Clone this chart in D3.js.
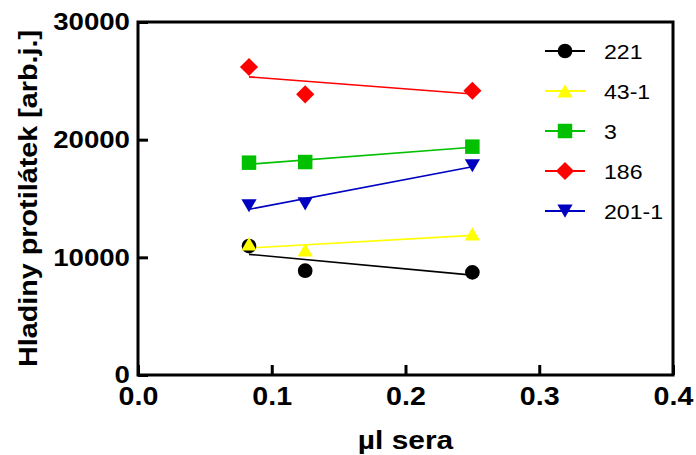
<!DOCTYPE html>
<html>
<head>
<meta charset="utf-8">
<script src="https://cdn.jsdelivr.net/npm/d3@7"></script>
<style>
    body { margin: 0; background: #fff; }
    text { font-family: Arial, "Liberation Sans", sans-serif; fill: #000; }
</style>
</head>
<body>
<svg id="chart" width="696" height="455"></svg>
<script>

// Dilutions (µl sera) and measured levels per serum sample
const doses = [0.083, 0.125, 0.25];

const seriesNames = ["221", "43-1", "3", "186", "201-1"];
const seriesColors = ["#000000", "#ffff00", "#00c000", "#ff0000", "#0000c0"];
const seriesSymbols = ["circle", "triangle", "square", "diamond", "triangleDown"];

const values221 = [10960, 8865, 8725];
const values43 = [11130, 10620, 11980];
const values3 = [18045, 18100, 19405];
const values186 = [26175, 23855, 24160];
const values201 = [14400, 14560, 17800];

const xTicks = [0, 0.1, 0.2, 0.3, 0.4];
const yTicks = [0, 10000, 20000, 30000];

const xTitle = "\u00b5l sera";
const yTitle = "Hladiny protilátek [arb.j.]";

const allValues = [values221, values43, values3, values186, values201];

const margin = { top: 22, left: 138, right: 23, bottom: 80 };
const width = 696, height = 455;

const svg = d3.select("#chart");

const x = d3.scaleLinear().domain([0, 0.4]).range([margin.left, width - margin.right]);
const y = d3.scaleLinear().domain([0, 30000]).range([height - margin.bottom, margin.top]);

// least squares fit, Prism draws the regression line over the data range
function fit(xs, ys) {
    const mx = d3.mean(xs), my = d3.mean(ys);
    let sxy = 0, sxx = 0;
    xs.forEach((v, i) => {
        sxy += (v - mx) * (ys[i] - my);
        sxx += (v - mx) * (v - mx);
    });
    const slope = sxy / sxx;
    const x0 = d3.min(xs), x1 = d3.max(xs);
    return [[x0, my + slope * (x0 - mx)], [x1, my + slope * (x1 - mx)]];
}

function symbolPath(kind) {
    if (kind === "circle") return d3.symbol(d3.symbolCircle, 170)();
    if (kind === "square") return d3.symbol(d3.symbolSquare, 210)();
    if (kind === "diamond") return d3.symbol(d3.symbolSquare, 165)();
    return d3.symbol(d3.symbolTriangle, 100)();
}

function symbolTransform(kind, px, py) {
    if (kind === "diamond") return `translate(${px},${py}) rotate(45)`;
    if (kind === "triangle") return `translate(${px},${py + 2})`;
    if (kind === "triangleDown") return `translate(${px},${py - 2}) rotate(180)`;
    return `translate(${px},${py})`;
}

/*
|--------------------------------------------------------------------------
| Axes
|--------------------------------------------------------------------------
*/

const yAxis = svg.append("g")
.attr("transform", `translate(${margin.left},0)`)
.call(d3.axisLeft(y).tickValues(yTicks).tickFormat(d3.format("d")).tickSize(-10).tickPadding(7));

yAxis.select(".domain").remove();
yAxis.selectAll("line").attr("stroke", "#000").attr("stroke-width", 3);
yAxis.selectAll("text")
.attr("font-size", 24)
.attr("font-weight", "bold")
.attr("transform", "scale(1.15,1)");

const xAxis = svg.append("g")
.attr("transform", `translate(0,${height - margin.bottom})`)
.call(d3.axisBottom(x).tickValues(xTicks).tickFormat(d3.format(".1f")).tickSize(-10).tickPadding(12));

xAxis.select(".domain").remove();
xAxis.selectAll("line").attr("stroke", "#000").attr("stroke-width", 3);
xAxis.selectAll("text")
.attr("font-size", 26)
.attr("font-weight", "bold")
.attr("transform", "scale(1.1,1)");

// frame
svg.append("rect")
.attr("x", margin.left)
.attr("y", margin.top)
.attr("width", width - margin.right - margin.left)
.attr("height", height - margin.bottom - margin.top)
.attr("fill", "none")
.attr("stroke", "#000")
.attr("stroke-width", 3);

// titles
svg.append("text")
.attr("transform", `translate(${(margin.left + width - margin.right) / 2},449) scale(1.15,1)`)
.attr("text-anchor", "middle")
.attr("font-size", 26)
.attr("font-weight", "bold")
.text(xTitle);

svg.append("text")
.attr("transform", `translate(37,${(margin.top + height - margin.bottom) / 2}) rotate(-90) scale(1.15,1)`)
.attr("text-anchor", "middle")
.attr("font-size", 25)
.attr("font-weight", "bold")
.text(yTitle);

/*
|--------------------------------------------------------------------------
| Regression lines and points
|--------------------------------------------------------------------------
*/

const line = d3.line()
.x(d => x(d[0]))
.y(d => y(d[1]));

allValues.forEach((vals, i) => {
    svg.append("path")
    .attr("d", line(fit(doses, vals)))
    .attr("fill", "none")
    .attr("stroke", seriesColors[i])
    .attr("stroke-width", 1.6);
});

allValues.forEach((vals, i) => {
    svg.append("g")
    .selectAll("path")
    .data(vals)
    .enter()
    .append("path")
    .attr("d", symbolPath(seriesSymbols[i]))
    .attr("transform", (d, j) => symbolTransform(seriesSymbols[i], x(doses[j]), y(d)))
    .attr("fill", seriesColors[i]);
});

/*
|--------------------------------------------------------------------------
| Legend
|--------------------------------------------------------------------------
*/

const legend = svg.append("g").attr("transform", "translate(565,51)");

seriesNames.forEach((name, i) => {
    const row = legend.append("g").attr("transform", `translate(0,${i * 40})`);

    row.append("line")
    .attr("x1", -20)
    .attr("x2", 20)
    .attr("stroke", seriesColors[i])
    .attr("stroke-width", 2);

    row.append("path")
    .attr("d", symbolPath(seriesSymbols[i]))
    .attr("transform", symbolTransform(seriesSymbols[i], 0, 0))
    .attr("fill", seriesColors[i]);

    row.append("text")
    .attr("transform", "translate(39,8) scale(1.1,1)")
    .attr("font-size", 21)
    .text(name);
});

</script>
</body>
</html>
